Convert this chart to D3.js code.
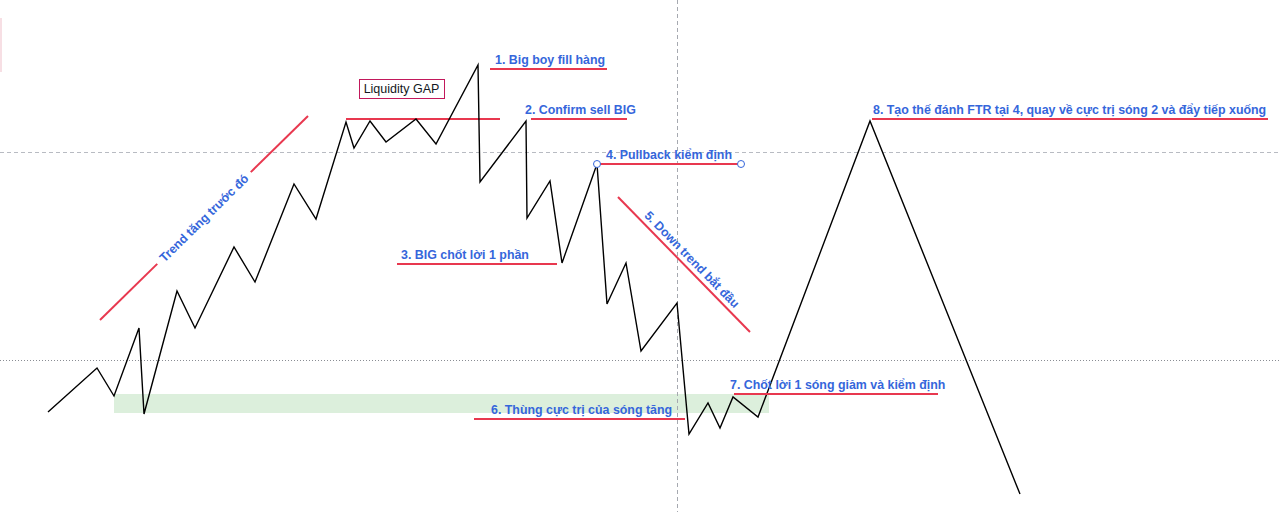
<!DOCTYPE html>
<html>
<head>
<meta charset="utf-8">
<script src="https://cdn.jsdelivr.net/npm/d3@7"></script>
<style>
  html, body { margin: 0; padding: 0; background: #ffffff; }
  svg { display: block; }
</style>
</head>
<body>
<svg id="chart" width="1280" height="512"></svg>
<script>
// price path (time, price)
const times  = [48, 97, 114, 139, 144, 177, 195, 234, 255, 294, 316, 346, 354, 370, 386, 416, 436, 478, 480, 526, 527, 550, 562, 597, 607, 626, 641, 677, 689, 708, 720, 733, 758, 870, 1020];
const prices = [100, 144, 116, 184, 98, 221, 184, 265, 230, 328, 293, 390, 364, 391, 370, 393, 368, 447, 330, 391, 294, 331, 249, 348, 208, 249, 161, 209, 78, 109, 84, 115, 95, 391, 18];

// horizontal annotations
const labels      = ["1. Big boy fill hàng", "2. Confirm sell BIG", "3. BIG chốt lời 1 phần", "4. Pullback kiểm định",
                     "6. Thùng cực trị của sóng tăng", "7. Chốt lời 1 sóng giảm và kiểm định",
                     "8. Tạo thế đánh FTR tại 4, quay về cực trị sóng 2 và đẩy tiếp xuống"];
const lineStart   = [490, 531, 397, 597, 474, 734, 872];
const lineEnd     = [607, 627, 557, 741, 685, 938, 1268];
const linePrice   = [443, 393, 248, 348, 93, 118, 393];
const labelStart  = [495, 525, 401, 606, 491, 730, 873];

// liquidity gap
const gapLine = [346, 500, 393];
const gapBox = [359, 444, 433, 414];
const gapLabel = "Liquidity GAP";

// demand zone (time from, time to, price top, price bottom)
const zone = [114, 769, 118, 99];

// diagonal trend lines
const trendLabels = ["Trend tăng trước đó", "5. Down trend bắt đầu"];
const trendFrom = [[100, 192], [618, 315]];
const trendTo   = [[308, 396], [750, 180]];

// crosshair / guide lines
const dashedPrice = 360;
const dottedPrice = 152;
const crossTime = 677;

const width = 1280, height = 512;
const blue = "#3566db", red = "#e8384f";
const labelFont = "'Liberation Sans', Arial, sans-serif";

let svg = d3.select("#chart");

let x = d3.scaleLinear().domain([0, 1280]).range([0, width]);
let y = d3.scaleLinear().domain([0, 512]).range([height, 0]);

// faint marker at the left edge
svg.append("rect")
    .attr("x", 0).attr("y", 18).attr("width", 2).attr("height", 54)
    .style("fill", "#f7dfe4");

// demand zone
svg.append("rect")
    .attr("x", x(zone[0]))
    .attr("y", y(zone[2]))
    .attr("width", x(zone[1]) - x(zone[0]))
    .attr("height", y(zone[3]) - y(zone[2]))
    .style("fill", "#dcefdc");

// guide lines
svg.append("line")
    .attr("x1", 0).attr("x2", width)
    .attr("y1", y(dashedPrice) + 0.5).attr("y2", y(dashedPrice) + 0.5)
    .style("stroke", "#b8bbc2").style("stroke-dasharray", "4,3");
svg.append("line")
    .attr("x1", 0).attr("x2", width)
    .attr("y1", y(dottedPrice) + 0.5).attr("y2", y(dottedPrice) + 0.5)
    .style("stroke", "#8a8d94").style("stroke-dasharray", "1,2");
svg.append("line")
    .attr("x1", x(crossTime) + 0.5).attr("x2", x(crossTime) + 0.5)
    .attr("y1", 0).attr("y2", height)
    .style("stroke", "#a6a9b0").style("stroke-dasharray", "4,3");

// liquidity gap line
svg.append("line")
    .attr("x1", x(gapLine[0])).attr("x2", x(gapLine[1]))
    .attr("y1", y(gapLine[2])).attr("y2", y(gapLine[2]))
    .style("stroke", red).style("stroke-width", 2);

// price path
let path = d3.line()
    .x(function(d, i) { return x(times[i]); })
    .y(function(d) { return y(d); });

svg.append("path")
    .datum(prices)
    .attr("d", path)
    .style("fill", "none")
    .style("stroke", "#000000")
    .style("stroke-width", 1.4)
    .style("stroke-linejoin", "miter");

// horizontal annotation lines and labels
let ann = svg.selectAll(".ann")
    .data(labels)
    .enter().append("g")
    .attr("class", "ann");

ann.append("line")
    .attr("x1", function(d, i) { return x(lineStart[i]); })
    .attr("x2", function(d, i) { return x(lineEnd[i]); })
    .attr("y1", function(d, i) { return y(linePrice[i]); })
    .attr("y2", function(d, i) { return y(linePrice[i]); })
    .style("stroke", red)
    .style("stroke-width", 2);

ann.append("text")
    .attr("x", function(d, i) { return x(labelStart[i]); })
    .attr("y", function(d, i) { return y(linePrice[i]) - 5; })
    .text(function(d) { return d; })
    .style("font-family", labelFont)
    .style("font-weight", "bold")
    .style("font-size", "12.4px")
    .style("fill", blue);

// handles on the pullback line
[lineStart[3], lineEnd[3]].forEach(function(t) {
    svg.append("circle")
        .attr("cx", x(t)).attr("cy", y(linePrice[3]))
        .attr("r", 3.5)
        .style("fill", "#ffffff")
        .style("stroke", blue)
        .style("stroke-width", 1);
});

// liquidity gap box
svg.append("rect")
    .attr("x", x(gapBox[0]) + 0.5)
    .attr("y", y(gapBox[2]) + 0.5)
    .attr("width", x(gapBox[1]) - x(gapBox[0]))
    .attr("height", y(gapBox[3]) - y(gapBox[2]))
    .style("fill", "#ffffff")
    .style("stroke", "#c2185b")
    .style("stroke-width", 1);
svg.append("text")
    .attr("x", (x(gapBox[0]) + x(gapBox[1])) / 2)
    .attr("y", (y(gapBox[2]) + y(gapBox[3])) / 2 + 4.5)
    .attr("text-anchor", "middle")
    .text(gapLabel)
    .style("font-family", labelFont)
    .style("font-size", "12.5px")
    .style("fill", "#131722");

// first trend: label sits inside a break of the line
(function() {
    let x1 = x(trendFrom[0][0]), y1 = y(trendFrom[0][1]);
    let x2 = x(trendTo[0][0]), y2 = y(trendTo[0][1]);
    let len = Math.hypot(x2 - x1, y2 - y1);
    let ux = (x2 - x1) / len, uy = (y2 - y1) / len;
    let ang = Math.atan2(y2 - y1, x2 - x1) * 180 / Math.PI;
    let cx = x1 + ux * len * 0.5, cy = y1 + uy * len * 0.5;

    let t = svg.append("text")
        .attr("transform", "translate(" + cx + "," + cy + ") rotate(" + ang + ")")
        .attr("text-anchor", "middle")
        .attr("dy", "0.35em")
        .text(trendLabels[0])
        .style("font-family", labelFont)
        .style("font-weight", "bold")
        .style("font-size", "12.4px")
        .style("fill", blue);
    let half = t.node().getComputedTextLength() / 2 + 6;

    svg.append("line")
        .attr("x1", x1).attr("y1", y1)
        .attr("x2", cx - ux * half).attr("y2", cy - uy * half)
        .style("stroke", red).style("stroke-width", 2);
    svg.append("line")
        .attr("x1", cx + ux * half).attr("y1", cy + uy * half)
        .attr("x2", x2).attr("y2", y2)
        .style("stroke", red).style("stroke-width", 2);
})();

// down trend: label above the line
(function() {
    let x1 = x(trendFrom[1][0]), y1 = y(trendFrom[1][1]);
    let x2 = x(trendTo[1][0]), y2 = y(trendTo[1][1]);
    let len = Math.hypot(x2 - x1, y2 - y1);
    let ux = (x2 - x1) / len, uy = (y2 - y1) / len;
    let ang = Math.atan2(y2 - y1, x2 - x1) * 180 / Math.PI;
    let cx = x1 + ux * (len * 0.5 + 2), cy = y1 + uy * (len * 0.5 + 2);

    svg.append("line")
        .attr("x1", x1).attr("y1", y1)
        .attr("x2", x2).attr("y2", y2)
        .style("stroke", red).style("stroke-width", 2);
    svg.append("text")
        .attr("transform", "translate(" + cx + "," + cy + ") rotate(" + ang + ")")
        .attr("text-anchor", "middle")
        .attr("y", -5)
        .text(trendLabels[1])
        .style("font-family", labelFont)
        .style("font-weight", "bold")
        .style("font-size", "12.4px")
        .style("fill", blue);
})();
</script>
</body>
</html>
